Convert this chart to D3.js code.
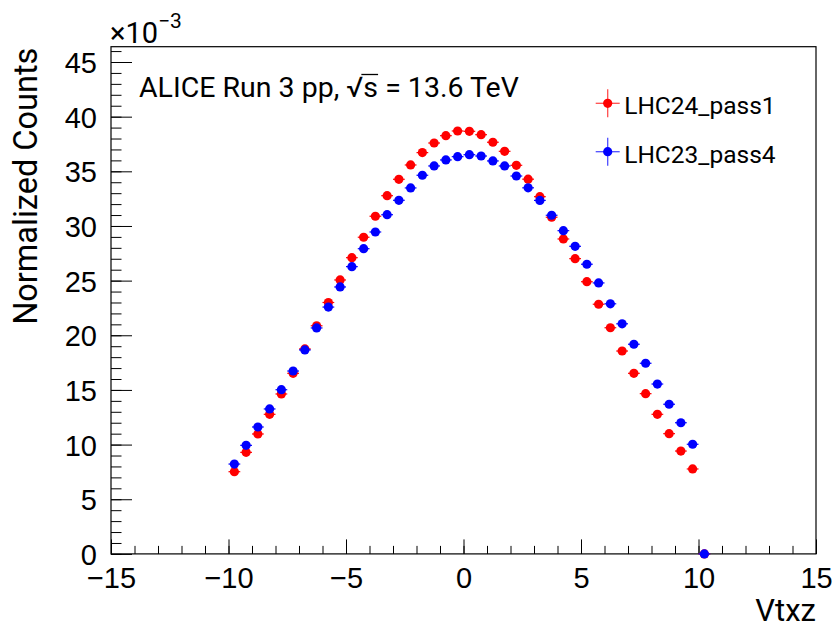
<!DOCTYPE html>
<html>
<head>
<meta charset="utf-8">
<script src="https://cdn.jsdelivr.net/npm/d3@7"></script>
<style>
  body { margin: 0; background: #fff; }
  svg { font-family: Roboto, "Liberation Sans", sans-serif; }
</style>
</head>
<body>
<div id="chart"></div>
<script>
// bin centres of Vtxz (bin width 0.5)
const binCenters = [-9.75, -9.25, -8.75, -8.25, -7.75, -7.25, -6.75, -6.25, -5.75, -5.25,
                    -4.75, -4.25, -3.75, -3.25, -2.75, -2.25, -1.75, -1.25, -0.75, -0.25,
                     0.25,  0.75,  1.25,  1.75,  2.25,  2.75,  3.25,  3.75,  4.25,  4.75,
                     5.25,  5.75,  6.25,  6.75,  7.25,  7.75,  8.25,  8.75,  9.25,  9.75, 10.25];

// normalized counts, in units of 1e-3
const lhc24Pass1 = [7.52, 9.29, 10.97, 12.77, 14.63, 16.52, 18.75, 20.87, 23.00, 25.06,
                    27.10, 28.97, 30.89, 32.77, 34.27, 35.58, 36.71, 37.59, 38.26, 38.69,
                    38.66, 38.35, 37.66, 36.83, 35.55, 34.28, 32.68, 30.80, 28.81, 27.01,
                    24.90, 22.84, 20.69, 18.56, 16.52, 14.66, 12.77, 11.00, 9.41, 7.77, 0];
const lhc23Pass4 = [8.22, 9.93, 11.61, 13.26, 15.02, 16.73, 18.66, 20.67, 22.58, 24.42,
                    26.28, 27.92, 29.45, 31.03, 32.35, 33.48, 34.64, 35.49, 36.04, 36.34,
                    36.52, 36.40, 35.95, 35.49, 34.57, 33.49, 32.34, 30.98, 29.57, 28.14,
                    26.50, 24.79, 22.88, 21.05, 19.18, 17.44, 15.54, 13.69, 12.00, 10.03, 0];

const seriesNames = ["LHC24_pass1", "LHC23_pass4"];
const seriesColors = ["#ff0000", "#0000ff"];
const binWidth = 0.5;

const xMajor = [-15, -10, -5, 0, 5, 10, 15];
const xMinor = d3.range(-15, 15.01, 1);
const yMajor = [0, 5, 10, 15, 20, 25, 30, 35, 40, 45];
const yMinor = d3.range(0, 46.1, 1);

const W = 837, H = 627;
const frame = { left: 111, right: 816, top: 46.7, bottom: 553.9 };

const svg = d3.select("#chart").append("svg")
    .attr("width", W).attr("height", H);

const x = d3.scaleLinear().domain([-15, 15]).range([frame.left, frame.right]);
const y = d3.scaleLinear().domain([0, 46.4]).range([frame.bottom, frame.top]);

const fmt = d => d < 0 ? "\u2212" + Math.abs(d) : String(d);

// x axis: ticks pointing inward (up)
svg.append("g").attr("transform", `translate(0,${frame.bottom})`)
    .call(d3.axisBottom(x).tickValues(xMinor).tickSize(-8).tickFormat(""));
const gx = svg.append("g").attr("transform", `translate(0,${frame.bottom})`)
    .call(d3.axisBottom(x).tickValues(xMajor).tickSize(-14.5).tickFormat(fmt));
gx.selectAll("text").attr("y", 34).attr("dy", null)
    .style("font-size", "29px").attr("fill", "#000");

// y axis: ticks pointing inward (right)
svg.append("g").attr("transform", `translate(${frame.left},0)`)
    .call(d3.axisLeft(y).tickValues(yMinor).tickSize(-10.5).tickFormat(""));
const gy = svg.append("g").attr("transform", `translate(${frame.left},0)`)
    .call(d3.axisLeft(y).tickValues(yMajor).tickSize(-21).tickFormat(fmt));
gy.selectAll("text").attr("x", -14).attr("dy", "0.36em")
    .style("font-size", "29px").attr("fill", "#000");

svg.selectAll(".domain").remove();
svg.selectAll(".tick line").attr("stroke", "#000").attr("stroke-width", 1);

// frame
svg.append("rect")
    .attr("x", frame.left).attr("y", frame.top)
    .attr("width", frame.right - frame.left).attr("height", frame.bottom - frame.top)
    .attr("fill", "none").attr("stroke", "#000").attr("stroke-width", 1.2);

// axis titles
svg.append("text")
    .attr("x", frame.right).attr("y", 621)
    .attr("text-anchor", "end")
    .style("font-size", "31px")
    .text("Vtxz");

svg.append("text")
    .attr("transform", `translate(36.5,${frame.top + 1}) rotate(-90)`)
    .attr("text-anchor", "end")
    .style("font-size", "32.5px")
    .text("Normalized Counts");

// exponent label
const expo = svg.append("text").attr("x", frame.left - 1).attr("y", 42.7).style("font-size", "29px");
expo.append("tspan").text("\u00d710");
expo.append("tspan").attr("dy", -14.5).style("font-size", "21px").text("\u22123");

// data
const series = [lhc24Pass1, lhc23Pass4];
series.forEach((vals, si) => {
  const g = svg.append("g");
  const pts = binCenters.map((c, i) => ({ c, v: vals[i] }));
  g.selectAll("line")
    .data(pts)
    .join("line")
      .attr("x1", d => x(d.c - binWidth / 2))
      .attr("x2", d => x(d.c + binWidth / 2))
      .attr("y1", d => y(d.v))
      .attr("y2", d => y(d.v))
      .attr("stroke", seriesColors[si])
      .attr("stroke-width", 1.2);
  g.selectAll("circle")
    .data(pts)
    .join("circle")
      .attr("cx", d => x(d.c))
      .attr("cy", d => y(d.v))
      .attr("r", 4.6)
      .attr("fill", seriesColors[si]);
});

// header text
const hdr = svg.append("text")
    .attr("x", 139).attr("y", 96.5)
    .style("font-size", "28.5px");
hdr.append("tspan").text("ALICE Run 3 pp, \u221A");
hdr.append("tspan").text("s");
hdr.append("tspan").text(" = 13.6 TeV");
{
  const node = hdr.node();
  const idx = "ALICE Run 3 pp, \u221A".length;
  const sq = node.getExtentOfChar(idx - 1);
  const s = node.getExtentOfChar(idx);
  svg.append("line")
    .attr("x1", sq.x + sq.width - 2).attr("x2", s.x + s.width)
    .attr("y1", sq.y + 4).attr("y2", sq.y + 4)
    .attr("stroke", "#000").attr("stroke-width", 1.3);
}

// legend
const legY = [103.3, 151.7];
seriesNames.forEach((name, i) => {
  const g = svg.append("g").attr("transform", `translate(607.7,${legY[i]})`);
  g.append("line").attr("x1", -12).attr("x2", 12)
    .attr("stroke", seriesColors[i]).attr("stroke-opacity", 0.7).attr("stroke-width", 1.3);
  g.append("line").attr("y1", -14).attr("y2", 14)
    .attr("stroke", seriesColors[i]).attr("stroke-opacity", 0.7).attr("stroke-width", 1.3);
  g.append("circle").attr("r", 4.6).attr("fill", seriesColors[i]);
  g.append("text").attr("x", 16.5).attr("y", 11)
    .style("font-size", "24.5px").text(name);
});
</script>
</body>
</html>
